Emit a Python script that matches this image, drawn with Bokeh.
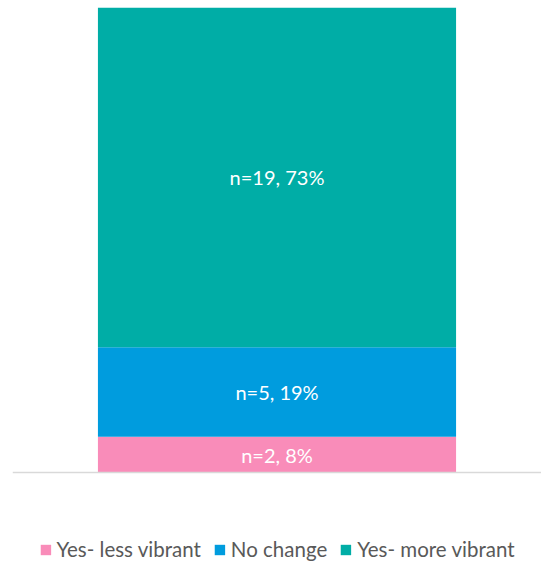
from bokeh.plotting import figure
from bokeh.models import ColumnDataSource, Legend, LegendItem, FactorRange, Range1d, Span
from bokeh.embed import file_html
from bokeh.resources import INLINE
from bokeh.core.properties import value

category = ["All"]
series = ["Yes- less vibrant", "No change", "Yes- more vibrant"]
counts = [2, 5, 19]
labels = ["n=2, 8%", "n=5, 19%", "n=19, 73%"]
colors = ["#F98CB9", "#009CDE", "#00ADA6"]

total = sum(counts)
# extra room below the bar baseline (in data units) for the legend area
pad_below = total * 92 / 465

p = figure(width=541, height=564, x_range=FactorRange(*category),
           y_range=Range1d(-pad_below, total), output_backend="svg",
           toolbar_location=None, min_border_left=12, min_border_right=0,
           min_border_top=7, min_border_bottom=0)
p.outline_line_color = None
p.xgrid.visible = False
p.ygrid.visible = False
p.yaxis.visible = False
p.xaxis.visible = False
p.add_layout(Span(location=0, dimension="width", line_color="#D9D9D9", line_width=1.5))

items = []
bottom = 0
for name, c, lab, col in zip(series, counts, labels, colors):
    src = ColumnDataSource(dict(x=category, bottom=[bottom], top=[bottom + c],
                                mid=[bottom + c / 2], label=[lab]))
    r = p.vbar(x="x", bottom="bottom", top="top", width=0.677, source=src,
               fill_color=col, line_color=None)
    p.text(x="x", y="mid", text="label", source=src, text_color="white",
           text_align="center", text_baseline="middle",
           text_font=value("Lato"), text_font_size="20px")
    items.append(LegendItem(label=name, renderers=[r]))
    bottom += c

legend = Legend(items=items, orientation="horizontal", location="bottom_center",
                label_text_font="Lato", label_text_font_size="20.5px",
                label_text_color="#595959", glyph_width=13, glyph_height=13,
                spacing=12, label_standoff=5, border_line_color=None,
                background_fill_alpha=0, margin=3, padding=0)
p.add_layout(legend, "center")

open("out.html", "w").write(file_html(p, INLINE))
